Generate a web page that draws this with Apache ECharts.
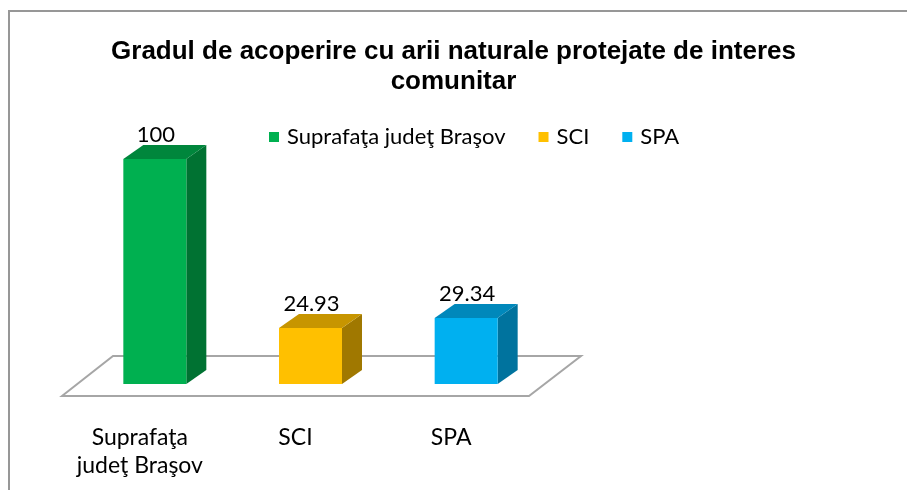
<!DOCTYPE html>
<html>
<head>
<meta charset="utf-8">
<script src="https://cdn.jsdelivr.net/npm/echarts@6/dist/echarts.min.js"></script>
<style>
  html, body { margin: 0; padding: 0; background: #fff; }
  #chart { width: 907px; height: 490px; }
</style>
</head>
<body>
<div id="chart"></div>
<script>
var titleText = 'Gradul de acoperire cu arii naturale protejate de interes\ncomunitar';
var categories = ['Suprafaţa judeţ Braşov', 'SCI', 'SPA'];
var tickLabels = ['Suprafaţa\njudeţ Braşov', 'SCI', 'SPA'];
var values = [100, 24.93, 29.34];
var valueLabels = ['100', '24.93', '29.34'];
var faceColors = ['#00b050', '#ffc000', '#00b0f0'];
var topColors = ['#00863c', '#c79500', '#0088bb'];
var sideColors = ['#007232', '#a07800', '#00739e'];

// 3d look
var DEPTH_X = 20, DEPTH_Y = -14, SHIFT_X = 15, FACE_W = 63;

function renderBar(params, api) {
    var idx = api.value(0);
    var top = api.coord([idx, api.value(1)]);
    var base = api.coord([idx, 0]);
    var cx = top[0] + SHIFT_X;
    var x0 = cx - FACE_W / 2, x1 = cx + FACE_W / 2;
    var y0 = top[1], y1 = base[1];
    var s = params.seriesIndex - 1;
    return {
        type: 'group',
        children: [{
            type: 'polygon',
            shape: { points: [[x1, y0], [x1 + DEPTH_X, y0 + DEPTH_Y], [x1 + DEPTH_X, y1 + DEPTH_Y], [x1, y1]] },
            style: { fill: sideColors[s] }
        }, {
            type: 'polygon',
            shape: { points: [[x0, y0], [x0 + DEPTH_X, y0 + DEPTH_Y], [x1 + DEPTH_X, y0 + DEPTH_Y], [x1, y0]] },
            style: { fill: topColors[s] }
        }, {
            type: 'rect',
            shape: { x: x0, y: y0, width: FACE_W, height: y1 - y0 },
            style: { fill: faceColors[s] }
        }, {
            type: 'text',
            x: cx + 1, y: y0 - 24,
            style: {
                text: valueLabels[s], fill: '#000',
                font: '22px Lato', align: 'center', verticalAlign: 'middle'
            }
        }]
    };
}

function renderFloor(params, api) {
    var first = api.coord([0, 0]);
    var last = api.coord([categories.length - 1, 0]);
    var band = api.size([1, 0])[0];
    var xl = first[0] - band / 2, xr = last[0] + band / 2;
    var yf = first[1] + 12, yb = first[1] - 28;
    return {
        type: 'polygon',
        shape: { points: [[xl, yf], [xl + 51, yb], [xr + 52, yb], [xr, yf]] },
        style: { fill: '#fff', stroke: '#a6a6a6', lineWidth: 2 }
    };
}

var series = [{
    type: 'custom',
    name: 'floor',
    silent: true,
    renderItem: renderFloor,
    data: [[0, 0]],
    z: 1
}];
categories.forEach(function (name, i) {
    series.push({
        type: 'custom',
        name: name,
        color: faceColors[i],
        renderItem: renderBar,
        encode: { x: 0, y: 1 },
        data: [[i, values[i]]],
        z: 2
    });
});

var chart = echarts.init(document.getElementById('chart'), null, { renderer: 'canvas' });
chart.setOption({
    animation: false,
    backgroundColor: '#fff',
    graphic: [{
        type: 'rect',
        shape: { x: 9, y: 11, width: 1000, height: 1000 },
        style: { fill: 'none', stroke: '#979797', lineWidth: 2 },
        silent: true
    }],
    title: {
        text: titleText,
        left: 'center',
        top: 32,
        textStyle: {
            fontFamily: 'Liberation Sans', fontWeight: 'bold', fontSize: 26,
            lineHeight: 30, color: '#000'
        }
    },
    legend: {
        data: categories,
        left: 264,
        top: 121,
        icon: 'rect',
        itemWidth: 10,
        itemHeight: 10,
        itemGap: 33,
        textStyle: { fontFamily: 'Lato', fontSize: 22, color: '#000', padding: [0, 0, 0, 3] }
    },
    grid: { left: 62, top: 159, width: 467, bottom: 106 },
    xAxis: {
        type: 'category',
        data: tickLabels,
        axisLine: { show: false },
        axisTick: { show: false },
        axisLabel: {
            margin: 40, color: '#000', fontFamily: 'Lato', fontSize: 23,
            lineHeight: 28, interval: 0
        }
    },
    yAxis: {
        type: 'value',
        min: 0,
        max: 100,
        show: false,
        splitLine: { show: false }
    },
    series: series
});
</script>
</body>
</html>
